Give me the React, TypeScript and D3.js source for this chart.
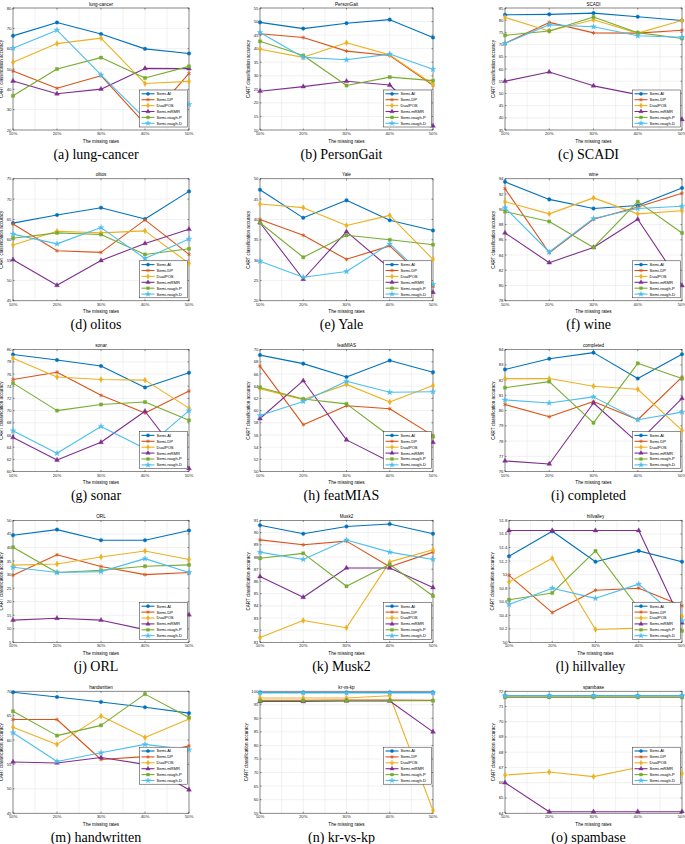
import * as d3 from "d3";

// x categories and legend entries
const rates = ["10%", "20%", "30%", "40%", "50%"];
const methods = ["Semi-AI", "Semi-DP", "DualPOS", "Semi-mRMR", "Semi-rough-P", "Semi-rough-D"];
const colors = ["#0072BD", "#D95319", "#EDB120", "#7E2F8E", "#77AC30", "#4DBEEE"];

// dataset names, one per subplot
const datasets = ["lung-cancer", "PersonGait", "SCADI", "olitos", "Yale", "wine", "sonar", "featMIAS",
  "completed", "ORL", "Musk2", "hillvalley", "handwritten", "kr-vs-kp", "spambase"];
const tags = ["a", "b", "c", "d", "e", "f", "g", "h", "i", "j", "k", "l", "m", "n", "o"];

// y axis [min, max, step] per subplot
const yAxes = [
  [20, 80, 10], [10, 55, 5], [35, 85, 5], [45, 75, 5], [20, 50, 5], [78, 94, 2],
  [60, 80, 2], [50, 70, 2], [76, 84, 1], [5, 50, 5], [81, 91, 1], [50, 51.8, 0.2],
  [45, 70, 5], [55, 100, 5], [64, 72, 1],
];

// accuracy per method (rows follow `methods`)
const lungCancer = [
  [66.3, 72.9, 67.2, 59.9, 57.6],
  [49.0, 40.5, 46.7, 23.0, 47.8],
  [53.3, 62.5, 65.2, 42.9, 43.9],
  [44.1, 37.8, 40.1, 50.3, 50.2],
  [36.8, 50.0, 55.6, 45.6, 51.3],
  [60.2, 69.1, 47.1, 25.6, 32.6],
];
const personGait = [
  [49.7, 47.4, 49.4, 50.7, 44.1],
  [45.5, 44.1, 39.1, 37.5, 26.5],
  [39.8, 36.8, 42.2, 37.7, 26.9],
  [24.3, 26.0, 28.0, 26.6, 11.5],
  [42.7, 37.5, 26.4, 29.5, 28.2],
  [46.0, 36.8, 35.9, 38.0, 32.4],
];
const scadi = [
  [82.2, 82.4, 82.9, 81.4, 79.9],
  [70.5, 79.1, 74.8, 74.7, 75.9],
  [81.1, 75.6, 80.2, 74.7, 79.9],
  [55.0, 58.8, 53.1, 49.5, 39.3],
  [73.8, 75.6, 81.3, 74.9, 72.5],
  [70.5, 78.1, 77.3, 73.6, 73.0],
];
const olitos = [
  [64.1, 66.1, 67.9, 65.1, 71.9],
  [63.9, 57.3, 56.9, 64.9, 56.4],
  [58.7, 62.1, 61.7, 62.2, 54.2],
  [55.1, 48.8, 54.9, 59.1, 62.6],
  [60.4, 61.7, 61.3, 56.4, 57.8],
  [61.4, 59.0, 63.0, 55.4, 60.2],
];
const yale = [
  [47.3, 40.4, 44.7, 39.8, 37.3],
  [40.0, 36.1, 30.2, 33.5, 23.5],
  [43.8, 42.9, 38.5, 41.0, 30.2],
  [39.2, 25.3, 37.0, 28.0, 22.1],
  [39.2, 30.7, 36.1, 35.0, 33.8],
  [29.7, 25.8, 27.2, 34.0, 24.0],
];
const wine = [
  [93.6, 91.3, 90.1, 90.5, 92.8],
  [92.7, 84.3, 88.7, 90.3, 92.1],
  [91.0, 89.4, 91.5, 89.4, 89.8],
  [86.9, 83.0, 85.0, 88.7, 80.0],
  [89.7, 88.4, 85.0, 91.0, 86.9],
  [90.2, 84.4, 88.8, 90.1, 90.4],
];
const sonar = [
  [79.2, 78.3, 77.3, 73.8, 76.2],
  [75.1, 76.3, 72.5, 69.6, 73.2],
  [78.6, 75.5, 75.1, 75.0, 70.4],
  [65.6, 61.9, 64.8, 69.9, 60.5],
  [74.5, 70.0, 71.0, 71.4, 68.4],
  [66.7, 63.0, 67.4, 63.8, 70.0],
];
const featMIAS = [
  [69.1, 67.7, 65.5, 68.2, 66.3],
  [67.3, 57.7, 60.8, 60.3, 55.9],
  [63.6, 61.8, 64.3, 61.4, 64.1],
  [58.7, 64.9, 55.2, 51.6, 54.8],
  [63.8, 61.9, 61.1, 55.8, 55.7],
  [59.2, 61.5, 64.8, 63.0, 63.1],
];
const completed = [
  [82.7, 83.4, 83.8, 82.1, 83.7],
  [80.4, 79.6, 80.6, 79.4, 82.2],
  [82.1, 82.1, 81.6, 81.4, 78.7],
  [76.7, 76.5, 80.5, 77.9, 80.8],
  [81.5, 81.9, 79.2, 83.1, 82.1],
  [80.7, 80.5, 80.9, 79.4, 79.9],
];
const orl = [
  [44.5, 46.6, 42.7, 42.7, 46.3],
  [29.8, 37.3, 33.0, 30.0, 30.8],
  [33.5, 33.9, 36.5, 38.7, 35.6],
  [13.2, 13.9, 13.2, 9.7, 15.2],
  [40.1, 30.8, 31.6, 33.1, 33.6],
  [32.7, 30.8, 31.1, 35.9, 30.8],
];
const musk2 = [
  [90.6, 89.9, 90.5, 90.7, 89.9],
  [89.4, 89.0, 89.3, 87.2, 88.4],
  [81.4, 82.8, 82.2, 87.6, 88.6],
  [86.4, 84.7, 87.1, 87.1, 85.5],
  [87.9, 88.3, 85.6, 87.4, 84.8],
  [88.4, 87.8, 89.4, 88.4, 87.8],
];
const hillvalley = [
  [51.27, 51.64, 51.19, 51.35, 51.19],
  [50.99, 50.44, 50.77, 50.8, 50.54],
  [50.89, 51.24, 50.19, 50.21, 50.38],
  [51.65, 51.65, 51.65, 51.65, 50.29],
  [50.63, 50.73, 51.35, 50.5, 50.17],
  [50.56, 50.8, 50.65, 50.86, 50.32],
];
const handwritten = [
  [69.8, 68.8, 67.8, 66.7, 65.5],
  [64.2, 64.2, 56.0, 56.6, 58.8],
  [62.6, 59.1, 64.9, 60.5, 64.3],
  [55.5, 55.3, 56.4, 55.0, 49.8],
  [65.9, 60.9, 63.0, 69.4, 64.6],
  [61.5, 55.6, 57.4, 59.1, 58.0],
];
const krVsKp = [
  [99.5, 99.5, 99.5, 99.5, 99.5],
  [96.6, 96.6, 96.7, 96.7, 96.6],
  [97.5, 97.5, 97.5, 98.3, 56.0],
  [96.2, 96.2, 96.4, 96.4, 85.0],
  [96.5, 96.5, 96.5, 96.5, 96.5],
  [99.4, 99.4, 99.4, 99.4, 99.4],
];
const spambase = [
  [71.7, 71.7, 71.7, 71.7, 71.7],
  [71.6, 71.6, 71.6, 71.6, 71.6],
  [66.5, 66.7, 66.4, 67.0, 66.6],
  [66.0, 64.1, 64.1, 64.1, 64.1],
  [71.6, 71.6, 71.6, 71.6, 71.6],
  [71.7, 71.7, 71.7, 71.7, 71.7],
];

const allValues = [lungCancer, personGait, scadi, olitos, yale, wine, sonar, featMIAS,
  completed, orl, musk2, hillvalley, handwritten, krVsKp, spambase];

const symbols = [d3.symbolCircle, d3.symbolAsterisk, d3.symbolDiamond, d3.symbolTriangle, d3.symbolSquare, d3.symbolStar];
const sans = "'Liberation Sans', Arial, sans-serif";

const colLeft = [13, 260, 505];
const colRight = [189, 433, 682];
// legend distance above the plot bottom (px)
const legendLift = [3, 3, 3, 3, 3, 3, 3, 3, 3, 3, 3, 3, 29, 29, 29];

function Marker({ i, cx, cy, size = 10 }: { i: number; cx: number; cy: number; size?: number }) {
  const d = d3.symbol().type(symbols[i]).size(size)() as string;
  const stroked = i === 1;
  return (
    <path
      d={d}
      transform={`translate(${cx},${cy})`}
      fill={stroked ? "none" : colors[i]}
      stroke={colors[i]}
      strokeWidth={stroked ? 0.8 : 0.4}
    />
  );
}

function Panel({ k }: { k: number }) {
  const col = k % 3;
  const row = Math.floor(k / 3);
  const [ymin, ymax, ystep] = yAxes[k];
  const labels = d3.range(ymin, ymax + ystep / 2, ystep).map((v) => +v.toFixed(1));
  const maxLen = d3.max(labels, (v) => String(v).length) as number;
  const left = colLeft[col] + (maxLen > 3 ? 4 : 0);
  const right = colRight[col];
  const top = 8 + 170.8 * row;
  const bottom = top + 122;

  const x = d3.scaleLinear().domain([0, 4]).range([left, right]);
  const y = d3.scaleLinear().domain([ymin, ymax]).range([bottom, top]);
  const line = d3.line<number>().x((_, i) => x(i)).y((d) => y(d));
  const values = allValues[k];

  const lgW = 48, lgH = 37;
  const lgX = right - 1.5 - lgW;
  const lgY = bottom - legendLift[k] - lgH;
  const labelX = left - maxLen * 2.4 - 5;

  return (
    <g>
      {/* grid */}
      {d3.range(0, 4.01, 0.5).map((g) => (
        <line key={"vx" + g} x1={x(g)} x2={x(g)} y1={top} y2={bottom} stroke="#e3e3e3" strokeWidth={0.5} />
      ))}
      {labels.map((v) => (
        <line key={"hy" + v} x1={left} x2={right} y1={y(v)} y2={y(v)} stroke="#e3e3e3" strokeWidth={0.5} />
      ))}
      {/* box */}
      <rect x={left} y={top} width={right - left} height={bottom - top} fill="none" stroke="#262626" strokeWidth={0.5} />
      {/* ticks */}
      {labels.map((v) => (
        <g key={"ty" + v}>
          <line x1={left} x2={left + 1.5} y1={y(v)} y2={y(v)} stroke="#262626" strokeWidth={0.5} />
          <line x1={right} x2={right - 1.5} y1={y(v)} y2={y(v)} stroke="#262626" strokeWidth={0.5} />
          <text x={left - 1.5} y={y(v)} dy="0.35em" textAnchor="end" fontSize={4.3} fontFamily={sans} fill="#262626">
            {String(v)}
          </text>
        </g>
      ))}
      {rates.map((r, i) => (
        <g key={r}>
          <line x1={x(i)} x2={x(i)} y1={bottom} y2={bottom - 1.5} stroke="#262626" strokeWidth={0.5} />
          <line x1={x(i)} x2={x(i)} y1={top} y2={top + 1.5} stroke="#262626" strokeWidth={0.5} />
          <text x={x(i)} y={bottom + 5} textAnchor="middle" fontSize={4.3} fontFamily={sans} fill="#262626">
            {r}
          </text>
        </g>
      ))}
      {/* lines and markers */}
      {values.map((s, i) => (
        <g key={methods[i]}>
          <path d={line(s) as string} fill="none" stroke={colors[i]} strokeWidth={1.1} strokeLinejoin="round" />
          {s.map((v, j) => (
            <Marker key={j} i={i} cx={x(j)} cy={y(v)} />
          ))}
        </g>
      ))}
      {/* legend */}
      <rect x={lgX} y={lgY} width={lgW} height={lgH} fill="#fff" stroke="#262626" strokeWidth={0.5} />
      {methods.map((m, i) => {
        const ly = lgY + 3.8 + i * 5.9;
        return (
          <g key={m}>
            <line x1={lgX + 2} x2={lgX + 15} y1={ly} y2={ly} stroke={colors[i]} strokeWidth={1.1} />
            <Marker i={i} cx={lgX + 8.5} cy={ly} size={8} />
            <text x={lgX + 17} y={ly} dy="0.35em" fontSize={4.1} fontFamily={sans} fill="#000">
              {m}
            </text>
          </g>
        );
      })}
      {/* titles */}
      <text x={(left + right) / 2} y={top - 2.5} textAnchor="middle" fontSize={4.6} fontFamily={sans} fill="#000">
        {datasets[k]}
      </text>
      <text x={(left + right) / 2} y={bottom + 12.5} textAnchor="middle" fontSize={4.6} fontFamily={sans} fill="#000">
        The missing rates
      </text>
      <text
        transform={`translate(${labelX},${(top + bottom) / 2}) rotate(-90)`}
        textAnchor="middle"
        fontSize={4.5}
        fontFamily={sans}
        fill="#000"
      >
        CART classification accuracy
      </text>
      <text
        x={(left + right) / 2 - 5}
        y={bottom + 28.5}
        textAnchor="middle"
        fontSize={14}
        fontFamily="'Liberation Serif', 'Times New Roman', serif"
        fill="#000"
      >
        {`(${tags[k]}) ${datasets[k]}`}
      </text>
    </g>
  );
}

export default function App() {
  return (
    <svg
      width={685}
      height={844}
      viewBox="0 0 685 844"
      style={{ position: "absolute", left: 0, top: 0, background: "#fff" }}
    >
      <rect width={685} height={844} fill="#fff" />
      {datasets.map((_, k) => (
        <Panel key={k} k={k} />
      ))}
    </svg>
  );
}
